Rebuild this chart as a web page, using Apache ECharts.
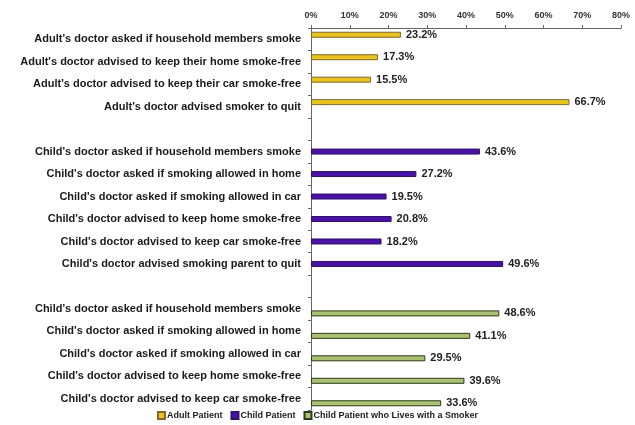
<!DOCTYPE html>
<html>
<head>
<meta charset="utf-8">
<script src="https://cdn.jsdelivr.net/npm/echarts@6/dist/echarts.min.js"></script>
<style>
  html, body { margin: 0; padding: 0; background: #fff; }
  #chart { width: 635px; height: 425px; }
</style>
</head>
<body>
<div id="chart"></div>
<script>
var categories = [
  "Adult's doctor asked if household members smoke",
  "Adult's doctor advised to keep their home smoke-free",
  "Adult's doctor advised to keep their car smoke-free",
  "Adult's doctor advised smoker to quit",
  "",
  "Child's doctor asked if household members smoke",
  "Child's doctor asked if smoking allowed in home",
  "Child's doctor asked if smoking allowed in car",
  "Child's doctor advised to keep home smoke-free",
  "Child's doctor advised to keep car smoke-free",
  "Child's doctor advised smoking parent to quit",
  " ",
  "Child's doctor asked if household members smoke",
  "Child's doctor asked if smoking allowed in home",
  "Child's doctor asked if smoking allowed in car",
  "Child's doctor advised to keep home smoke-free",
  "Child's doctor advised to keep car smoke-free"
];
var adultData = [23.2, 17.3, 15.5, 66.7, null, null, null, null, null, null, null, null, null, null, null, null, null];
var childData = [null, null, null, null, null, 43.6, 27.2, 19.5, 20.8, 18.2, 49.6, null, null, null, null, null, null];
var smokerData = [null, null, null, null, null, null, null, null, null, null, null, null, 48.6, 41.1, 29.5, 39.6, 33.6];
var seriesNames = ['Adult Patient', 'Child Patient', 'Child Patient who Lives with a Smoker'];

var font = "'Liberation Sans', Arial, sans-serif";

function makeSeries(name, data, fill, border) {
  return {
    name: name,
    type: 'bar',
    data: data,
    barWidth: 6,
    barGap: '-25%',
    itemStyle: { color: fill, borderColor: border, borderWidth: 1 },
    label: {
      show: true,
      position: 'right',
      distance: 5,
      color: '#222',
      fontFamily: font,
      fontWeight: 'bold',
      fontSize: 11,
      formatter: function (p) { return p.value.toFixed(1) + '%'; }
    }
  };
}

var myChart = echarts.init(document.getElementById('chart'));
myChart.setOption({
  animation: false,
  textStyle: { fontFamily: font },
  legend: {
    top: 411,
    left: 'center',
    padding: 0,
    icon: 'rect',
    itemWidth: 7,
    itemHeight: 7,
    itemGap: 8,
    textStyle: { fontFamily: font, fontWeight: 'bold', fontSize: 9, color: '#222', padding: [0, 0, 0, -3] },
    data: seriesNames
  },
  grid: { left: 311, right: 14, top: 28, bottom: 15 },
  xAxis: {
    type: 'value',
    position: 'top',
    min: 0,
    max: 80,
    interval: 10,
    splitLine: { show: false },
    axisLine: { show: true, lineStyle: { color: '#666', width: 1 } },
    axisTick: { show: true, length: 3, lineStyle: { color: '#666' } },
    axisLabel: {
      margin: 8,
      color: '#333',
      fontFamily: font,
      fontWeight: 'bold',
      fontSize: 9,
      formatter: '{value}%'
    }
  },
  yAxis: {
    type: 'category',
    inverse: true,
    data: categories,
    axisLine: { show: true, lineStyle: { color: '#666', width: 1 } },
    axisTick: { show: true, length: 3, lineStyle: { color: '#666' } },
    axisLabel: {
      margin: 10,
      color: '#1a1a1a',
      fontFamily: font,
      fontWeight: 'bold',
      fontSize: 11,
      interval: 0
    }
  },
  series: [
    makeSeries(seriesNames[0], adultData, '#EAC31E', '#7A6A2E'),
    makeSeries(seriesNames[1], childData, '#4A12A2', '#33106E'),
    makeSeries(seriesNames[2], smokerData, '#A9C171', '#2E3A1E')
  ]
});
</script>
</body>
</html>
